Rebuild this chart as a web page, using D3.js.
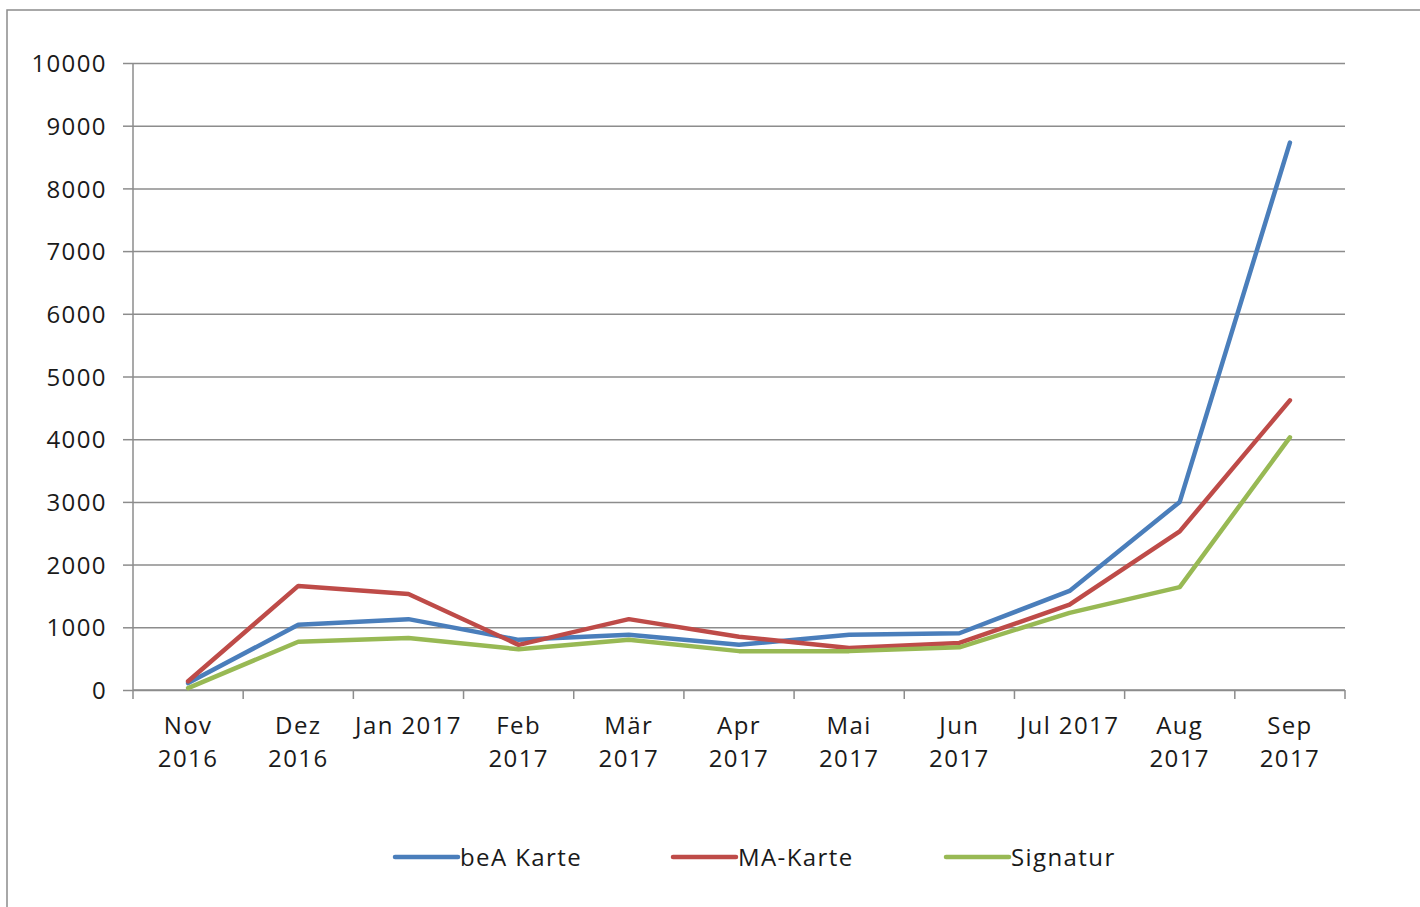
<!DOCTYPE html>
<html>
<head>
    <meta charset="utf-8">
    <title>beA Karte / MA-Karte / Signatur</title>
    <script type="text/javascript" src="https://cdn.jsdelivr.net/npm/d3@7"></script>
    <style>
        body { margin: 0; background: #fff; }
        text { font-family: "Open Sans", sans-serif; fill: #1a1a1a; letter-spacing: 1.4px; }
    </style>
</head>

<body>

<script type="text/javascript">
    var categories = ["Nov 2016", "Dez 2016", "Jan 2017", "Feb 2017", "Mär 2017", "Apr 2017",
                      "Mai 2017", "Jun 2017", "Jul 2017", "Aug 2017", "Sep 2017"];
    // how each tick label is broken into lines in the picture
    var tickLabels = [["Nov", "2016"], ["Dez", "2016"], ["Jan 2017"], ["Feb", "2017"], ["Mär", "2017"],
                      ["Apr", "2017"], ["Mai", "2017"], ["Jun", "2017"], ["Jul 2017"], ["Aug", "2017"], ["Sep", "2017"]];
    var beaKarte = [110, 1040, 1130, 800, 880, 720, 880, 905, 1580, 3000, 8730];
    var maKarte  = [140, 1660, 1530, 720, 1130, 850, 670, 750, 1360, 2530, 4620];
    var signatur = [30, 770, 830, 650, 800, 620, 620, 680, 1230, 1640, 4030];
    var seriesNames = ["beA Karte", "MA-Karte", "Signatur"];
    var yTicks = [0, 1000, 2000, 3000, 4000, 5000, 6000, 7000, 8000, 9000, 10000];

    var width = 1420, height = 907;
    var plotLeft = 133, plotRight = 1345, plotTop = 63, plotBottom = 690;
    var colors = ["#4a7ebb", "#be4b48", "#98b954"];

    var svg = d3.select("body").append("svg")
            .attr("width", width)
            .attr("height", height);

    // outer frame, runs off the right and bottom edge
    svg.append("rect")
        .attr("x", 7).attr("y", 10)
        .attr("width", 1500).attr("height", 1000)
        .attr("fill", "none")
        .attr("stroke", "#8c8c8c")
        .attr("stroke-width", 1.5);

    var x = d3.scaleBand().domain(categories).range([plotLeft, plotRight]);
    var y = d3.scaleLinear().domain([0, 10000]).range([plotBottom, plotTop]);

    // y axis with grid lines
    var yAxis = svg.append("g")
        .attr("transform", "translate(" + plotLeft + ",0)")
        .call(d3.axisLeft(y).tickValues(yTicks).tickSize(10).tickPadding(16).tickFormat(d3.format("d")));
    yAxis.select(".domain").attr("stroke", "#8c8c8c").attr("stroke-width", 1.5).attr("d", "M0," + plotTop + "V" + plotBottom);
    yAxis.selectAll(".tick line").attr("stroke", "#8c8c8c").attr("stroke-width", 1.5);
    yAxis.selectAll(".tick text").style("font-size", "24px").attr("dy", "0.36em").attr("fill", "#1a1a1a");
    yAxis.selectAll("g.tick")
        .append("line")
        .attr("x1", 0).attr("x2", plotRight - plotLeft)
        .attr("y1", 0).attr("y2", 0)
        .attr("stroke", "#8c8c8c").attr("stroke-width", 1.5);

    // x axis: ticks on band edges
    var edges = categories.map(function(c){ return x(c); }).concat([plotRight]);
    var xAxis = svg.append("g");
    xAxis.append("line")
        .attr("x1", plotLeft).attr("x2", plotRight)
        .attr("y1", plotBottom).attr("y2", plotBottom)
        .attr("stroke", "#8c8c8c").attr("stroke-width", 1.5);
    xAxis.selectAll("line.xt").data(edges).enter().append("line")
        .attr("class", "xt")
        .attr("x1", function(d){ return d; }).attr("x2", function(d){ return d; })
        .attr("y1", plotBottom).attr("y2", plotBottom + 9)
        .attr("stroke", "#8c8c8c").attr("stroke-width", 1.5);
    var lbl = xAxis.selectAll("text.xl").data(categories).enter().append("text")
        .attr("class", "xl")
        .attr("text-anchor", "middle")
        .style("font-size", "24px")
        .attr("transform", function(c){ return "translate(" + (x(c) + x.bandwidth() / 2) + "," + (plotBottom + 44) + ")"; });
    lbl.selectAll("tspan").data(function(c, i){ return tickLabels[i]; }).enter().append("tspan")
        .attr("x", 0)
        .attr("dy", function(d, i){ return i === 0 ? 0 : 33; })
        .text(function(d){ return d; });

    // lines
    var line = d3.line()
        .x(function(d, i){ return x(categories[i]) + x.bandwidth() / 2; })
        .y(function(d){ return y(d); });
    var series = [beaKarte, maKarte, signatur];
    svg.selectAll("path.series").data(series).enter().append("path")
        .attr("class", "series")
        .attr("d", line)
        .attr("fill", "none")
        .attr("stroke", function(d, i){ return colors[i]; })
        .attr("stroke-width", 4.5)
        .attr("stroke-linejoin", "round")
        .attr("stroke-linecap", "round");

    // legend
    var legendX = [395, 673, 946];
    var legend = svg.selectAll("g.legend").data(seriesNames).enter().append("g")
        .attr("class", "legend")
        .attr("transform", function(d, i){ return "translate(" + legendX[i] + ",857)"; });
    legend.append("line")
        .attr("x1", 0).attr("x2", 63)
        .attr("stroke", function(d, i){ return colors[i]; })
        .attr("stroke-width", 4.5)
        .attr("stroke-linecap", "round");
    legend.append("text")
        .attr("x", 65).attr("dy", "0.36em")
        .style("font-size", "24px")
        .text(function(d){ return d; });
</script>

</body>

</html>
